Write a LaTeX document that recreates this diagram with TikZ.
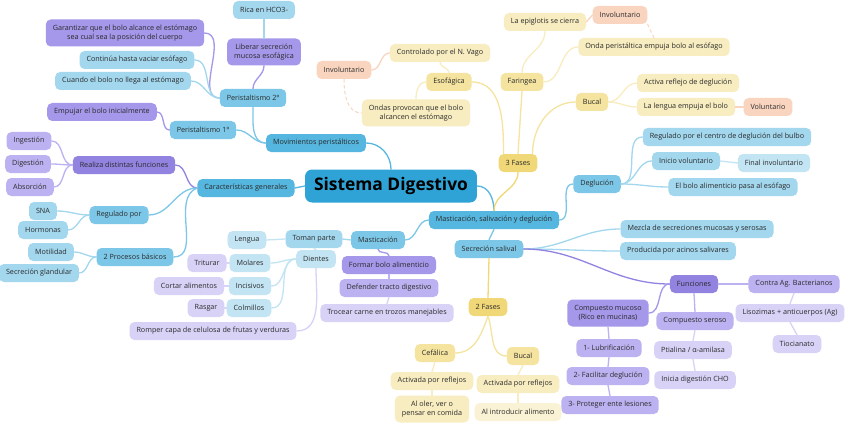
\documentclass[tikz,border=0pt]{standalone}
\usepackage{fontspec}
\setmainfont{Open Sans}
\definecolor{cMain}{HTML}{2FA3D5}
\definecolor{cB1}{HTML}{55B6DF}
\definecolor{cB2}{HTML}{7CC7E7}
\definecolor{cB3}{HTML}{A2D7EE}
\definecolor{cB4}{HTML}{C2E4F3}
\definecolor{cP1}{HTML}{9283E1}
\definecolor{cP2}{HTML}{A597EA}
\definecolor{cP3}{HTML}{BDB2F1}
\definecolor{cP4}{HTML}{D8D2F7}
\definecolor{cY1}{HTML}{F0D878}
\definecolor{cY2}{HTML}{F5E49F}
\definecolor{cY3}{HTML}{F8EDC0}
\definecolor{cY4}{HTML}{FAF2D4}
\definecolor{cPe}{HTML}{F9D5C0}
\definecolor{cTxt}{HTML}{2A2A2A}
\tikzset{
  nb/.style={rounded corners=5pt, inner xsep=7pt, inner ysep=2pt, minimum height=18pt,
    font=\fontsize{7.2}{8.4}\selectfont, align=center, text=cTxt},
  c0/.style={rounded corners=7pt, fill=cMain, inner xsep=9pt, minimum height=33pt,
    font=\fontsize{17.4}{19}\selectfont\bfseries, text=black},
  b1/.style={nb, fill=cB1}, b2/.style={nb, fill=cB2}, b3/.style={nb, fill=cB3}, b4/.style={nb, fill=cB4},
  p1/.style={nb, fill=cP1}, p2/.style={nb, fill=cP2}, p3/.style={nb, fill=cP3}, p4/.style={nb, fill=cP4},
  y1/.style={nb, fill=cY1}, y2/.style={nb, fill=cY2}, y3/.style={nb, fill=cY3}, y4/.style={nb, fill=cY4},
  pe/.style={nb, fill=cPe},
  two/.style={minimum height=27pt},
  lk/.style={line width=1.3pt, line cap=round},
  lB1/.style={lk, draw=cB1}, lB2/.style={lk, draw=cB2}, lB3/.style={lk, draw=cB3}, lB4/.style={lk, draw=cB4},
  lP/.style={lk, draw=cP2}, lP3/.style={lk, draw=cP3}, lP4/.style={lk, draw=cP4},
  lY/.style={lk, draw=cY1}, lY2/.style={lk, draw=cY2}, lY3/.style={lk, draw=cY3},
  lPe/.style={lk, draw=cPe}, lPed/.style={lk, draw=cPe, dashed, line width=1pt}
}
\begin{document}
\begin{tikzpicture}[x=1pt, y=-1pt]
\useasboundingbox[fill=white] (0,0) rectangle (848,425);
% central
\node[c0] (sd) at (391,186) {Sistema Digestivo};
% level 1
\node[b1] (mov) at (316,143) {Movimientos peristálticos};
\node[b1] (car) at (246,188) {Características generales};
\node[b1] (msd) at (494,220) {Masticación, salivación y deglución};
% peristaltismo
\node[b2] (per2) at (253,98) {Peristaltismo 2º};
\node[b2] (per1) at (203,130) {Peristaltismo 1º};
\node[p2,two] (lib) at (264,52) {Liberar secreción\\mucosa esofágica};
\node[b3] (rica) at (264,10) {Rica en HCO3-};
\node[p2,two] (gar) at (125,33) {Garantizar que el bolo alcance el estómago\\sea cual sea la posición del cuerpo};
\node[b3] (cont) at (137,60) {Continúa hasta vaciar esófago};
\node[b3] (cuan) at (123,81) {Cuando el bolo no llega al estómago};
\node[p2] (emp) at (102,112) {Empujar el bolo inicialmente};
% caracteristicas
\node[p1] (rea) at (124,165) {Realiza distintas funciones};
\node[p3] (ing) at (29,141) {Ingestión};
\node[p3] (dig) at (28,164) {Digestión};
\node[p3] (abs) at (30,187) {Absorción};
\node[b2] (reg) at (119,215) {Regulado por};
\node[b3] (sna) at (43,211) {SNA};
\node[b3] (hor) at (43,230) {Hormonas};
\node[b2] (pro) at (135,257) {2 Procesos básicos};
\node[b3] (mot) at (51,252) {Motilidad};
\node[b3] (sec) at (39,273) {Secreción glandular};
% masticacion
\node[b2] (mas) at (378,240) {Masticación};
\node[b3] (tom) at (314,239) {Toman parte};
\node[b4] (len) at (247,240) {Lengua};
\node[b4] (die) at (316,259) {Dientes};
\node[b4] (mol) at (250,263) {Molares};
\node[b4] (inc) at (250,286) {Incisivos};
\node[b4] (col) at (249,308) {Colmillos};
\node[p4] (tri) at (207,263) {Triturar};
\node[p4] (cor) at (189,286) {Cortar alimentos};
\node[p4] (ras) at (206,308) {Rasgar};
\node[p4] (rom) at (213,331) {Romper capa de celulosa de frutas y verduras};
\node[p2] (for) at (389,265) {Formar bolo alimenticio};
\node[p3] (def) at (389,288) {Defender tracto digestivo};
\node[p4] (tro) at (387,313) {Trocear carne en trozos manejables};
% 3 fases
\node[y1] (f3) at (518,163) {3 Fases};
\node[y2] (eso) at (449,82) {Esofágica};
\node[y3] (ctl) at (440,53) {Controlado por el N. Vago};
\node[pe] (inv1) at (344,70) {Involuntario};
\node[y3,two] (ond) at (416,113) {Ondas provocan que el bolo\\alcancen el estómago};
\node[y2] (far) at (522,82) {Faringea};
\node[y3] (epi) at (545,22) {La epiglotis se cierra};
\node[pe] (inv2) at (620,15) {Involuntario};
\node[y3] (onp) at (654,47) {Onda peristáltica empuja bolo al esófago};
\node[y2] (buc) at (592,102) {Bucal};
\node[y3] (act) at (688,83) {Activa reflejo de deglución};
\node[y3] (lal) at (686,107) {La lengua empuja el bolo};
\node[pe] (vol) at (768,107) {Voluntario};
% deglucion
\node[b2] (deg) at (597,184) {Deglución};
\node[b3] (rgb) at (727,137) {Regulado por el centro de deglución del bulbo};
\node[b3] (ini) at (686,161) {Inicio voluntario};
\node[b4] (fin) at (774,163) {Final involuntario};
\node[b3] (elb) at (733,187) {El bolo alimenticio pasa al esófago};
% secrecion salival
\node[b2] (ssa) at (489,249) {Secreción salival};
\node[b3] (mez) at (697,229) {Mezcla de secreciones mucosas y serosas};
\node[b3] (prd) at (678,251) {Producida por acinos salivares};
\node[p1] (fun) at (694,284) {Funciones};
\node[p3] (cab) at (794,284) {Contra Ag. Bacterianos};
\node[p4] (lis) at (790,313) {Lisozimas + anticuerpos (Ag)};
\node[p4] (tio) at (797,344) {Tiocianato};
\node[p3] (cse) at (695,321) {Compuesto seroso};
\node[p4] (pti) at (693,350) {Ptialina / α-amilasa};
\node[p4] (inic) at (695,380) {Inicia digestión CHO};
\node[p2,two] (cmu) at (608,313) {Compuesto mucoso\\(Rico en mucinas)};
\node[p3] (lub) at (609,348) {1- Lubrificación};
\node[p3] (fac) at (608,376) {2- Facilitar deglución};
\node[p3] (prt) at (610,405) {3- Proteger ente lesiones};
% 2 fases
\node[y1] (f2) at (488,307) {2 Fases};
\node[y2] (cef) at (435,353) {Cefálica};
\node[y3] (ac1) at (432,381) {Activada por reflejos};
\node[y3,two] (olr) at (432,409) {Al oler, ver o\\pensar en comida};
\node[y2] (bu2) at (523,356) {Bucal};
\node[y3] (ac2) at (518,384) {Activada por reflejos};
\node[y4] (ali) at (518,412) {Al introducir alimento};

% connectors
\draw[lB1] (sd.east) to[out=0,in=90] (msd.north);
\draw[lB1] (mov.east) to[out=0,in=90] (sd.north);
\draw[lB1] (car.east) -- (sd.west);
\draw[lB2] (per2.south) to[out=270,in=180] (mov.west);
\draw[lB2] (per1.east) to[out=0,in=180] (mov.west);
\draw[lP] (per2.north) to[out=90,in=270] (lib.south);
\draw[lB3] (lib.north) -- (rica.south);
\draw[lP] (per2.west) to[out=180,in=0] (gar.east);
\draw[lB3] (per2.west) to[out=180,in=0] (cont.east);
\draw[lB3] (per2.west) to[out=180,in=0] (cuan.east);
\draw[lP] (per1.west) to[out=180,in=0] (emp.east);
\draw[lk,draw=cP1] (car.west) to[out=180,in=0] (rea.east);
\draw[lB2] (car.west) to[out=180,in=0] (reg.east);
\draw[lB2] (car.west) to[out=200,in=0] (pro.east);
\draw[lP3] (rea.west) to[out=180,in=0] (ing.east);
\draw[lP3] (rea.west) to[out=180,in=0] (dig.east);
\draw[lP3] (rea.west) to[out=180,in=0] (abs.east);
\draw[lB3] (reg.west) to[out=180,in=0] (sna.east);
\draw[lB3] (reg.west) to[out=180,in=0] (hor.east);
\draw[lB3] (pro.west) to[out=180,in=0] (mot.east);
\draw[lB3] (pro.west) to[out=180,in=0] (sec.east);
\draw[lB2] (msd.west) to[out=180,in=0] (mas.east);
\draw[lB3] (mas.west) -- (tom.east);
\draw[lB4] (tom.west) -- (len.east);
\draw[lB4] (tom.south) -- (die.north);
\draw[lB4] (die.west) to[out=180,in=0] (mol.east);
\draw[lB4] (die.west) to[out=180,in=0] (inc.east);
\draw[lB4] (die.west) to[out=180,in=0] (col.east);
\draw[lP4] (die.south) to[out=270,in=0] (rom.east);
\draw[lP4] (mol.west) -- (tri.east);
\draw[lP4] (inc.west) -- (cor.east);
\draw[lP4] (col.west) -- (ras.east);
\draw[lP] (mas.south) to[out=270,in=90] (for.north);
\draw[lP3] (for.south) -- (def.north);
\draw[lP4] (def.south) -- (tro.north);
\draw[lY] (msd.north) to[out=90,in=270] (f3.south);
\draw[lY2] (eso.east) to[out=0,in=90] ([xshift=5pt]f3.north west);
\draw[lY2] (far.south) -- (f3.north);
\draw[lY2] (buc.west) to[out=180,in=90] ([xshift=-5pt]f3.north east);
\draw[lY3] (eso.north) to[out=90,in=270] (ctl.south);
\draw[lY3] (eso.west) to[out=180,in=90] (ond.north);
\draw[lPe] (ctl.west) to[out=180,in=0] (inv1.east);
\draw[lPed] (inv1.south) to[out=270,in=180] (ond.west);
\draw[lY3] (far.north) to[out=90,in=270] (epi.south);
\draw[lY3] (far.east) to[out=0,in=180] (onp.west);
\draw[lPe] (epi.east) -- (inv2.west);
\draw[lPed] (inv2.south east) -- (onp.north);
\draw[lY3] (buc.east) to[out=0,in=180] (act.west);
\draw[lY3] (buc.east) to[out=0,in=180] (lal.west);
\draw[lPe] (lal.east) -- (vol.west);
\draw[lB2] (msd.east) to[out=0,in=180] (deg.west);
\draw[lB3] (deg.east) to[out=0,in=180] (rgb.west);
\draw[lB3] (deg.east) to[out=0,in=180] (ini.west);
\draw[lB3] (deg.east) to[out=0,in=180] (elb.west);
\draw[lB4] (ini.east) -- (fin.west);
\draw[lB2] (msd.south) -- (ssa.north);
\draw[lB3] (ssa.east) to[out=0,in=180] (mez.west);
\draw[lB3] (ssa.east) to[out=0,in=180] (prd.west);
\draw[lk,draw=cP1] (ssa.east) to[out=0,in=180] (fun.west);
\draw[lY] (ssa.south) -- (f2.north);
\draw[lP3] (fun.east) -- (cab.west);
\draw[lP3] (fun.south) -- (cse.north);
\draw[lP] (fun.west) to[out=180,in=0] (cmu.east);
\draw[lP4] (cab.south) -- (lis.north);
\draw[lP4] (lis.south) -- (tio.north);
\draw[lP4] (cse.south) -- (pti.north);
\draw[lP4] (pti.south) -- (inic.north);
\draw[lP3] (cmu.south) -- (lub.north);
\draw[lP3] (lub.south) -- (fac.north);
\draw[lP3] (fac.south) -- (prt.north);
\draw[lY2] (f2.south) to[out=250,in=0] (cef.east);
\draw[lY2] (f2.south) to[out=290,in=180] (bu2.west);
\draw[lY3] (cef.south) -- (ac1.north);
\draw[lY3] (ac1.south) -- (olr.north);
\draw[lY3] (bu2.south) -- (ac2.north);
\draw[lY3] (ac2.south) -- (ali.north);
\end{tikzpicture}
\end{document}
